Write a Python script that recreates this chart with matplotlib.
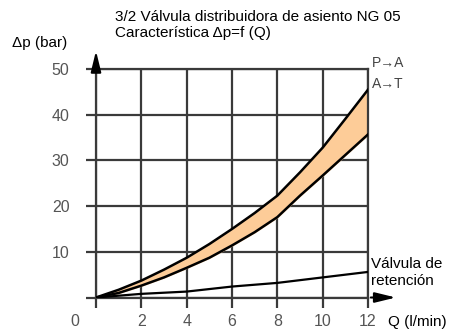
import matplotlib.pyplot as plt
import numpy as np

# flow (l/min) and pressure drop (bar)
q = [0, 1, 2, 3, 4, 5, 6, 7, 8, 9, 10, 11, 12]
dp_pa = [0, 1.7, 3.7, 6.1, 8.7, 11.7, 15.0, 18.5, 22.3, 27.4, 32.8, 39.1, 45.5]
dp_at = [0, 1.0, 2.6, 4.4, 6.5, 8.7, 11.4, 14.3, 17.6, 22.3, 26.7, 31.2, 35.7]
q_chk = [0, 2, 4, 6, 8, 10, 12]
dp_chk = [0, 0.8, 1.3, 2.4, 3.2, 4.4, 5.6]

xticks = [0, 2, 4, 6, 8, 10, 12]
yticks = [0, 10, 20, 30, 40, 50]

grid_col = '#3a3a3a'
txt_font = ['Liberation Sans', 'DejaVu Sans']

fig = plt.figure(figsize=(4.49, 3.29), dpi=100)
ax = fig.add_axes([0.2138, 0.0957, 0.6058, 0.6943])
ax.set_xlim(0, 12)
ax.set_ylim(0, 50)

ax.fill_between(q, dp_at, dp_pa, color='#fdcc98', zorder=2)
ax.plot(q, dp_pa, color='black', lw=1.8, zorder=3)
ax.plot(q, dp_at, color='black', lw=1.8, zorder=3)
ax.plot(q_chk, dp_chk, color='black', lw=1.6, zorder=3)

ax.set_xticks(xticks)
ax.set_yticks(yticks)
ax.set_xticklabels([''] + [str(t) for t in xticks[1:]])
ax.set_yticklabels([''] + [str(t) for t in yticks[1:]])
ax.grid(True, color=grid_col, lw=1.6, zorder=1)
ax.tick_params(length=7, width=1.6, color=grid_col, direction='out',
               labelsize=11.5, labelcolor='#555555')
ax.tick_params(axis='y', pad=12)
ax.tick_params(axis='x', pad=5)
for lab in ax.get_xticklabels() + ax.get_yticklabels():
    lab.set_family(txt_font)
for s in ax.spines.values():
    s.set_color(grid_col)
    s.set_linewidth(1.6)

# axis arrows
arr = dict(arrowstyle='-|>,head_width=0.22,head_length=0.9', color='black',
           lw=1.5, mutation_scale=14)
ax.annotate('', xy=(0, 54.6), xytext=(0, 50), xycoords='data',
            arrowprops=arr, annotation_clip=False)
ax.annotate('', xy=(13.35, 0), xytext=(12, 0), xycoords='data',
            arrowprops=arr, annotation_clip=False)

fig.text(75 / 449, 1 - 322 / 329, '0', ha='center', va='center',
         fontsize=11.5, color='#555555', family=txt_font)
fig.text(388 / 449, 1 - 322 / 329, 'Q (l/min)', ha='left', va='center',
         fontsize=11, color='black', family=txt_font)
fig.text(12 / 449, 1 - 43 / 329, 'Δp (bar)', ha='left', va='center',
         fontsize=11, color='black', family=txt_font)
fig.text(115 / 449, 1 - 17 / 329, '3/2 Válvula distribuidora de asiento NG 05',
         ha='left', va='center', fontsize=11, color='black', family=txt_font)
fig.text(115 / 449, 1 - 33 / 329, 'Característica Δp=f (Q)',
         ha='left', va='center', fontsize=11, color='black', family=txt_font)
fig.text(372 / 449, 1 - 63 / 329, 'P→A', ha='left', va='center',
         fontsize=10, color='#444444', family=txt_font)
fig.text(372 / 449, 1 - 84 / 329, 'A→T', ha='left', va='center',
         fontsize=10, color='#444444', family=txt_font)
fig.text(371 / 449, 1 - 264 / 329, 'Válvula de', ha='left', va='center',
         fontsize=11, color='black', family=txt_font)
fig.text(371 / 449, 1 - 281 / 329, 'retención', ha='left', va='center',
         fontsize=11, color='black', family=txt_font)

fig.savefig('out.png', dpi=100)
